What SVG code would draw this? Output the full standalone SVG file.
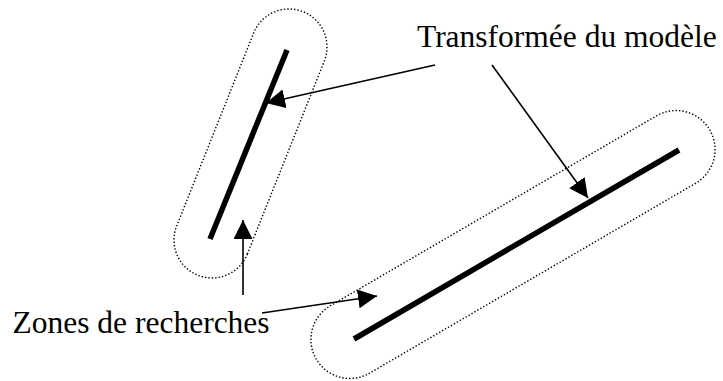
<svg xmlns="http://www.w3.org/2000/svg" width="723" height="381" viewBox="0 0 723 381">
<style>
.zone{fill:none;stroke:#000;stroke-width:1.4;stroke-dasharray:1.4 2}
.model{stroke:#000;stroke-width:5.5;stroke-linecap:butt}
.conn{stroke:#000;stroke-width:1.6;fill:none}
.lbl{font-family:"Liberation Serif","Times New Roman",serif;font-size:31.5px;fill:#000}
</style>
<defs>
<marker id="ah" markerUnits="userSpaceOnUse" markerWidth="20" markerHeight="20" refX="19" refY="9.5" orient="auto" viewBox="0 0 20 20">
<path d="M0,0 L19,9.5 L0,19 z" fill="#000"/>
</marker>
</defs>
<rect width="723" height="381" fill="#fff"/>
<g id="zone-left">
<path class="zone" d="M247.3,254.1 L324.3,61.1 A38,38 0 0 0 253.7,32.9 L176.7,225.9 A38,38 0 0 0 247.3,254.1 Z"/>
<line class="model" x1="287" y1="50" x2="210" y2="239"/>
</g>
<g id="zone-right">
<path class="zone" d="M368.6,373.7 L696.6,182.7 A39,39 0 0 0 657.4,115.3 L329.4,306.3 A39,39 0 0 0 368.6,373.7 Z"/>
<line class="model" x1="354" y1="339" x2="679" y2="150"/>
</g>
<g id="label-transformee">
<text class="lbl" x="417" y="47">Transformée du modèle</text>
</g>
<g id="label-zones">
<text class="lbl" x="12.5" y="333">Zones de recherches</text>
</g>
<g id="connectors">
<line class="conn" x1="435" y1="65" x2="266" y2="103" marker-end="url(#ah)"/>
<line class="conn" x1="492" y1="65" x2="588" y2="198" marker-end="url(#ah)"/>
<line class="conn" x1="243" y1="295" x2="243" y2="220" marker-end="url(#ah)"/>
<line class="conn" x1="262" y1="313" x2="377" y2="296" marker-end="url(#ah)"/>
</g>
</svg>
